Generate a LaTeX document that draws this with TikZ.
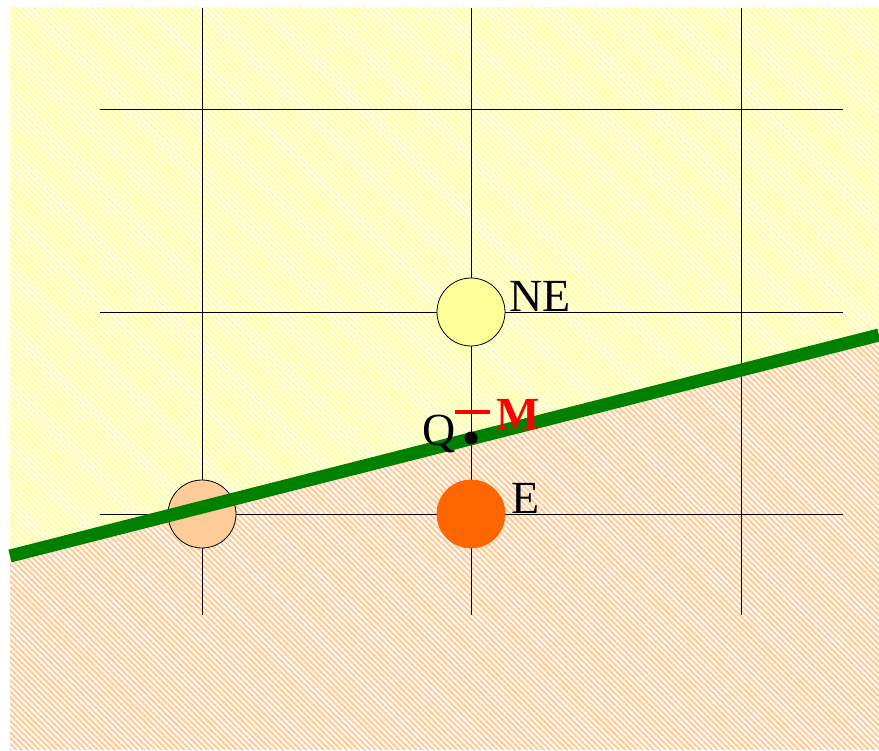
\documentclass[tikz,border=0pt]{standalone}
\usepackage{fontspec}
\setmainfont{Liberation Serif}
\usetikzlibrary{positioning,patterns.meta}
\definecolor{paleyellow}{HTML}{FFFF99}
\definecolor{peach}{HTML}{FFCC99}
\definecolor{hotorange}{HTML}{FF6600}
\definecolor{edgegreen}{HTML}{008000}
\definecolor{mred}{HTML}{FF0000}

\begin{document}
\begin{tikzpicture}[x=1pt,y=-1pt,
    pix/.style={circle,draw,line width=.8pt,inner sep=0pt,minimum size=68pt},
    lbl/.style={font=\fontsize{46}{46}\selectfont,inner sep=0pt},
    hatch/.style={pattern={Lines[angle=-45,distance=4.1pt,line width=2.2pt]}},
    grid/.style={line width=.8pt}]
        \useasboundingbox (0,0) rectangle (879,751);
        % hatched half planes
        \path[hatch,pattern color=paleyellow] (10,7)--(879,7)--(879,335)--(10,556)--cycle;
        \path[hatch,pattern color=peach] (10,556)--(879,335)--(879,750)--(10,750)--cycle;
        % pixel grid
        \foreach \x in {202,471,741}{\draw[grid] (\x,8)--(\x,615);}
        \foreach \y in {109,312,514}{\draw[grid] (100,\y)--(843,\y);}
        % candidate pixels
        \node[pix,fill=paleyellow] (ne) at (471,312){};
        \node[pix,fill=hotorange,draw=hotorange] (e) at (471,514){};
        \node[pix,fill=peach] (p) at (202,514){};
        \node[lbl,anchor=base west,xshift=4pt] (nelbl) at (ne.east){NE};
        \node[lbl,anchor=base west,xshift=6pt] (elbl) at (e.east){E};
        % ideal line
        \draw[edgegreen,line width=13pt] (10,556)--(879,335);
        % midpoint
        \node[circle,fill=black,inner sep=0pt,minimum size=13pt] (q) at (471,438){};
        \node[lbl,anchor=base east] (qlbl) at (456,446){Q};
        \draw[mred,line width=4pt] (455,412)--(490,412);
        \node[lbl,anchor=base west,text=mred,font=\fontsize{46}{46}\selectfont\bfseries] (m) at (496,430){M};
      \end{tikzpicture}
\end{document}
